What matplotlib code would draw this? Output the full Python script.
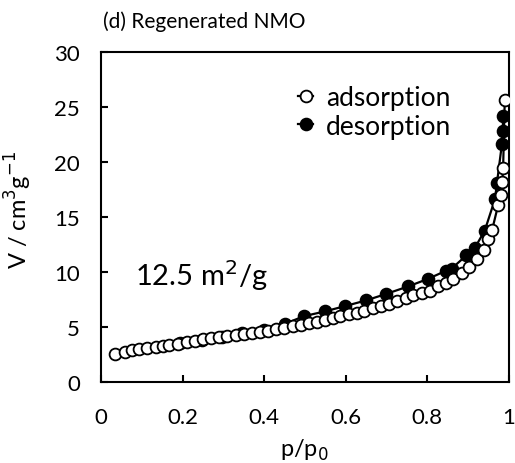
import matplotlib

matplotlib.use("Agg")

import matplotlib.pyplot as plt

plt.rcParams["font.family"] = ["Lato", "DejaVu Sans"]

# adsorption branch (open circles)
ads_p = [0.034, 0.059, 0.077, 0.094, 0.114, 0.136, 0.151, 0.168, 0.19, 0.21,
         0.23, 0.25, 0.27, 0.29, 0.31, 0.33, 0.35, 0.37, 0.39, 0.41,
         0.43, 0.45, 0.47, 0.49, 0.51, 0.529, 0.549, 0.568, 0.587, 0.607,
         0.627, 0.645, 0.667, 0.686, 0.707, 0.727, 0.747, 0.766, 0.786, 0.806,
         0.827, 0.846, 0.864, 0.884, 0.903, 0.921, 0.939, 0.949, 0.959, 0.974,
         0.980, 0.984, 0.986, 0.990]
ads_v = [2.5, 2.75, 2.85, 2.95, 3.06, 3.2, 3.3, 3.38, 3.48, 3.6,
         3.73, 3.85, 3.95, 4.04, 4.13, 4.22, 4.33, 4.45, 4.56, 4.66,
         4.78, 4.9, 5.03, 5.2, 5.33, 5.48, 5.64, 5.79, 5.97, 6.12,
         6.3, 6.48, 6.67, 6.88, 7.12, 7.39, 7.61, 7.85, 8.06, 8.3,
         8.67, 9.0, 9.36, 9.88, 10.48, 11.18, 12.03, 13.0, 13.8, 16.1,
         17.0, 18.15, 19.4, 25.6]

# desorption branch (filled circles)
des_p = [0.986, 0.985, 0.983, 0.971, 0.966, 0.941, 0.917, 0.896, 0.860, 0.846,
         0.802, 0.753, 0.700, 0.650, 0.598, 0.549, 0.498, 0.451, 0.400, 0.347,
         0.296, 0.247, 0.194]
des_v = [24.15, 22.85, 21.6, 18.1, 16.6, 13.75, 12.2, 11.5, 10.3, 10.1,
         9.36, 8.67, 8.0, 7.4, 6.88, 6.4, 5.97, 5.27, 4.73, 4.42,
         4.06, 3.82, 3.55]

x_ticks = [0, 0.2, 0.4, 0.6, 0.8, 1]
x_tick_labels = ["0", "0.2", "0.4", "0.6", "0.8", "1"]
y_ticks = [0, 5, 10, 15, 20, 25, 30]

fig = plt.figure(figsize=(5.15, 4.64), dpi=100)
ax = fig.add_axes([0.196, 0.175, 0.792, 0.711])

ax.plot(ads_p, ads_v, "-o", color="black", lw=1.6, ms=8.5,
        mfc="white", mec="black", mew=1.3, label="adsorption", zorder=3)
ax.plot(des_p, des_v, "-o", color="black", lw=1.6, ms=8.5,
        mfc="black", mec="black", mew=1.3, label="desorption", zorder=2)

ax.set_xlim(0, 1)
ax.set_ylim(0, 30)
ax.set_xticks(x_ticks)
ax.set_xticklabels(x_tick_labels)
ax.set_yticks(y_ticks)
ax.tick_params(direction="in", length=5, width=1.5, labelsize=16)
ax.tick_params(axis="x", pad=18)
ax.tick_params(axis="y", pad=15)
for side in ax.spines.values():
    side.set_linewidth(1.5)

ax.set_xlabel("p/p$_0$", fontsize=17)
ax.set_ylabel("V / cm$^3$g$^{-1}$", fontsize=17)
ax.xaxis.set_label_coords(0.5, -0.166)
ax.yaxis.set_label_coords(-0.164, 0.524)

ax.legend(loc="upper left", bbox_to_anchor=(0.484, 0.9), frameon=False,
          fontsize=19, handlelength=0.55, handletextpad=0.5,
          labelspacing=0.14, borderaxespad=0, borderpad=0)

ax.text(0.083, 0.324, "12.5 m$^2$/g", transform=ax.transAxes, fontsize=21,
        va="center", ha="left")
fig.text(0.2, 0.953, "(d) Regenerated NMO", fontsize=15, va="center",
         ha="left")

fig.savefig("out.png", dpi=100)
plt.close(fig)
